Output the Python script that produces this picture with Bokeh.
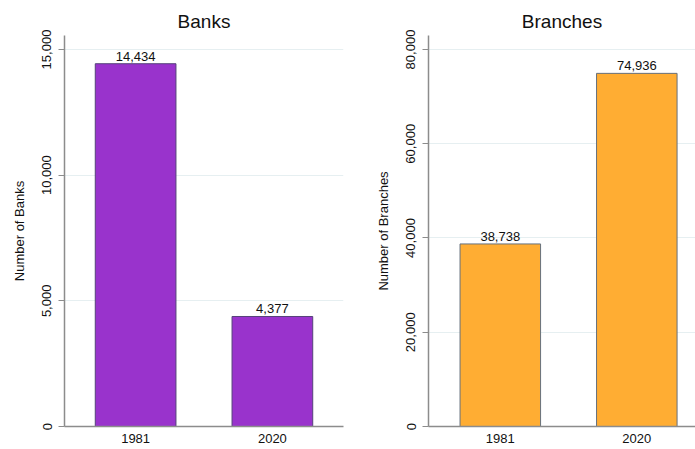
from bokeh.plotting import figure
from bokeh.layouts import row
from bokeh.models import ColumnDataSource, FixedTicker, CustomJSTickFormatter, LabelSet, Range1d
from bokeh.core.properties import value
from bokeh.embed import file_html
from bokeh.resources import INLINE

years = ["1981", "2020"]
banks = [14434, 4377]
branches = [38738, 74936]
bank_ticks = [0, 5000, 10000, 15000]
branch_ticks = [0, 20000, 40000, 60000, 80000]

FONT = "Liberation Sans"


def make_panel(title, ylabel, vals, ticks, ymax, color, outline, width, bl, br, xr):
    xs = [1, 2]
    src = ColumnDataSource(dict(x=xs, top=vals,
                                lab=[f"{v:,}" for v in vals], yr=years))
    p = figure(width=width, height=449, output_backend="svg", toolbar_location=None,
               title=title, x_range=Range1d(*xr), y_range=Range1d(0, ymax),
               min_border_left=bl, min_border_right=br, min_border_top=35,
               min_border_bottom=23)
    p.title.align = "center"
    p.title.text_font = FONT
    p.title.text_font_size = "19px"
    p.title.text_font_style = "normal"
    p.title.text_color = "#111111"
    p.title.offset = 0
    p.title.standoff = 8
    p.outline_line_color = None
    p.vbar(x="x", top="top", width=0.59, source=src, fill_color=color,
           line_color=outline, line_width=1)
    labels = LabelSet(x="x", y="top", text="lab", source=src, text_align="center",
                      text_baseline="bottom", y_offset=3, text_font_size="13px",
                      text_font=value(FONT), text_color="#111111")
    p.add_layout(labels)

    p.xaxis.ticker = FixedTicker(ticks=xs)
    p.xaxis.major_label_overrides = {1: years[0], 2: years[1]}
    p.xaxis.major_tick_out = 0
    p.xaxis.major_tick_in = 0
    p.xaxis.major_tick_line_color = None
    p.xaxis.minor_tick_line_color = None
    p.xaxis.major_label_standoff = 7
    p.xaxis.major_label_text_font = FONT
    p.xaxis.major_label_text_font_size = "13px"
    p.xaxis.major_label_text_color = "#111111"
    p.xaxis.axis_line_color = "#8c8c8c"
    p.xaxis.axis_line_width = 1.5

    p.yaxis.ticker = FixedTicker(ticks=ticks)
    p.yaxis.formatter = CustomJSTickFormatter(code="return tick.toLocaleString('en-US');")
    p.yaxis.major_label_orientation = "vertical"
    p.yaxis.major_label_text_font = FONT
    p.yaxis.major_label_text_font_size = "13px"
    p.yaxis.major_label_text_color = "#111111"
    p.yaxis.major_label_standoff = 7
    p.yaxis.major_tick_out = 6
    p.yaxis.major_tick_in = 0
    p.yaxis.major_tick_line_color = "#8c8c8c"
    p.yaxis.minor_tick_line_color = None
    p.yaxis.axis_line_color = "#8c8c8c"
    p.yaxis.axis_line_width = 1.5
    p.yaxis.axis_label = ylabel
    p.yaxis.axis_label_text_font = FONT
    p.yaxis.axis_label_text_font_size = "13px"
    p.yaxis.axis_label_text_font_style = "normal"
    p.yaxis.axis_label_text_color = "#111111"
    p.yaxis.axis_label_standoff = 13

    p.xgrid.grid_line_color = None
    p.ygrid.ticker = FixedTicker(ticks=ticks[1:])
    p.ygrid.grid_line_color = "#e6eff1"
    p.ygrid.grid_line_width = 1
    return p


p1 = make_panel("Banks", "Number of Banks", banks, bank_ticks, 15557,
                "#9933cc", "#55427a", 368, 64, 25, (0.48, 2.52))
p2 = make_panel("Branches", "Number of Branches", branches, branch_ticks, 82970,
                "#ffad33", "#66707c", 327, 60, 0, (0.474, 2.43))

layout = row(p1, p2)
open("out.html", "w").write(file_html(layout, INLINE))
